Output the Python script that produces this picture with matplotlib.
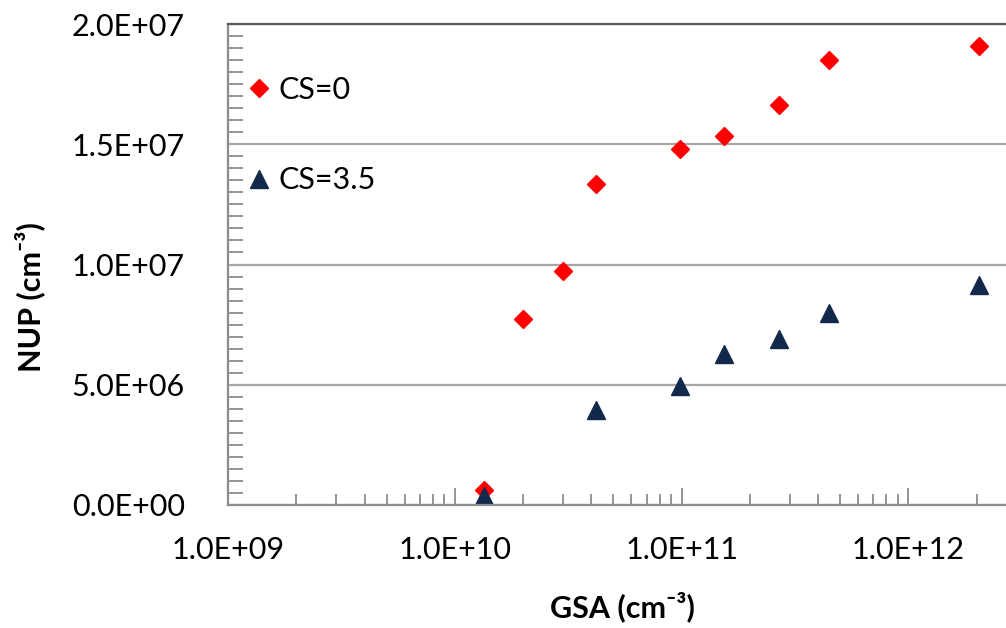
import numpy as np
import matplotlib
matplotlib.use('Agg')
import matplotlib.pyplot as plt
from matplotlib.ticker import LogLocator, MultipleLocator, FuncFormatter, NullFormatter

# データ
gsa_cs0 = [1.35e10, 2.0e10, 3.0e10, 4.2e10, 9.8e10, 1.53e11, 2.7e11, 4.45e11, 2.04e12]
nup_cs0 = [0.64e6, 7.73e6, 9.72e6, 13.34e6, 14.82e6, 15.33e6, 16.62e6, 18.52e6, 19.09e6]

gsa_cs35 = [1.35e10, 4.2e10, 9.8e10, 1.53e11, 2.7e11, 4.45e11, 2.04e12]
nup_cs35 = [0.37e6, 3.93e6, 4.93e6, 6.27e6, 6.91e6, 7.98e6, 9.13e6]

labels = ['CS=0', 'CS=3.5']

plt.rcParams['font.family'] = ['Lato', 'DejaVu Sans']

fig = plt.figure(figsize=(10.06, 6.28), dpi=100)
ax = fig.add_axes([228/1006, 1-505/628, 1-228/1006, (505-24)/628])

ax.plot(gsa_cs0, nup_cs0, linestyle='none', marker='D', markersize=9,
        color='#FF0000', label=labels[0])
ax.plot(gsa_cs35, nup_cs35, linestyle='none', marker='^', markersize=13,
        color='#13294B', label=labels[1])

ax.set_xscale('log')
ax.set_xlim(1e9, 10**12.43)
ax.set_ylim(0, 2e7)

# 目盛り
ax.xaxis.set_major_locator(LogLocator(base=10, numticks=10))
ax.xaxis.set_minor_locator(LogLocator(base=10, subs=np.arange(2, 10), numticks=20))
ax.xaxis.set_minor_formatter(NullFormatter())
ax.xaxis.set_major_formatter(FuncFormatter(lambda v, p: '1.0E+%02d' % round(np.log10(v))))
ax.yaxis.set_major_locator(MultipleLocator(5e6))
ax.yaxis.set_minor_locator(MultipleLocator(5e5))
ax.yaxis.set_major_formatter(FuncFormatter(lambda v, p: '%.1E' % v))

ax.tick_params(axis='x', which='major', direction='in', length=12, width=1.3,
               color='#8C8C8C', labelsize=22, pad=22)
ax.tick_params(axis='x', which='minor', direction='in', length=8, width=1.3,
               color='#8C8C8C')
ax.tick_params(axis='y', which='major', direction='in', length=0,
               labelsize=22, pad=31)
ax.tick_params(axis='y', which='minor', direction='in', length=11, width=1.3,
               color='#8C8C8C')

ax.grid(axis='y', which='major', color='#A6A6A6', linewidth=1.6)
ax.set_axisbelow(True)

for s in ['left', 'bottom']:
    ax.spines[s].set_color('#8C8C8C')
    ax.spines[s].set_linewidth(1.6)
ax.spines['right'].set_visible(False)
ax.spines['top'].set_color('#595959')
ax.spines['top'].set_linewidth(1.6)

# 軸ラベル
fig.text(622/1006, 1-607/628, 'GSA (cm⁻³)', fontsize=22, fontweight='bold',
         ha='center', va='center', family=['Lato', 'DejaVu Sans'])
fig.text(30/1006, 1-297/628, 'NUP (cm⁻³)', fontsize=22, fontweight='bold',
         ha='center', va='center', rotation=90, family=['Lato', 'DejaVu Sans'])

ax.legend(loc='upper left', bbox_to_anchor=(0.0, 0.931), frameon=False,
          fontsize=22, labelspacing=2.06, handlelength=0.8, handletextpad=0.25,
          borderaxespad=0.2)

fig.savefig('out.png', dpi=100)
